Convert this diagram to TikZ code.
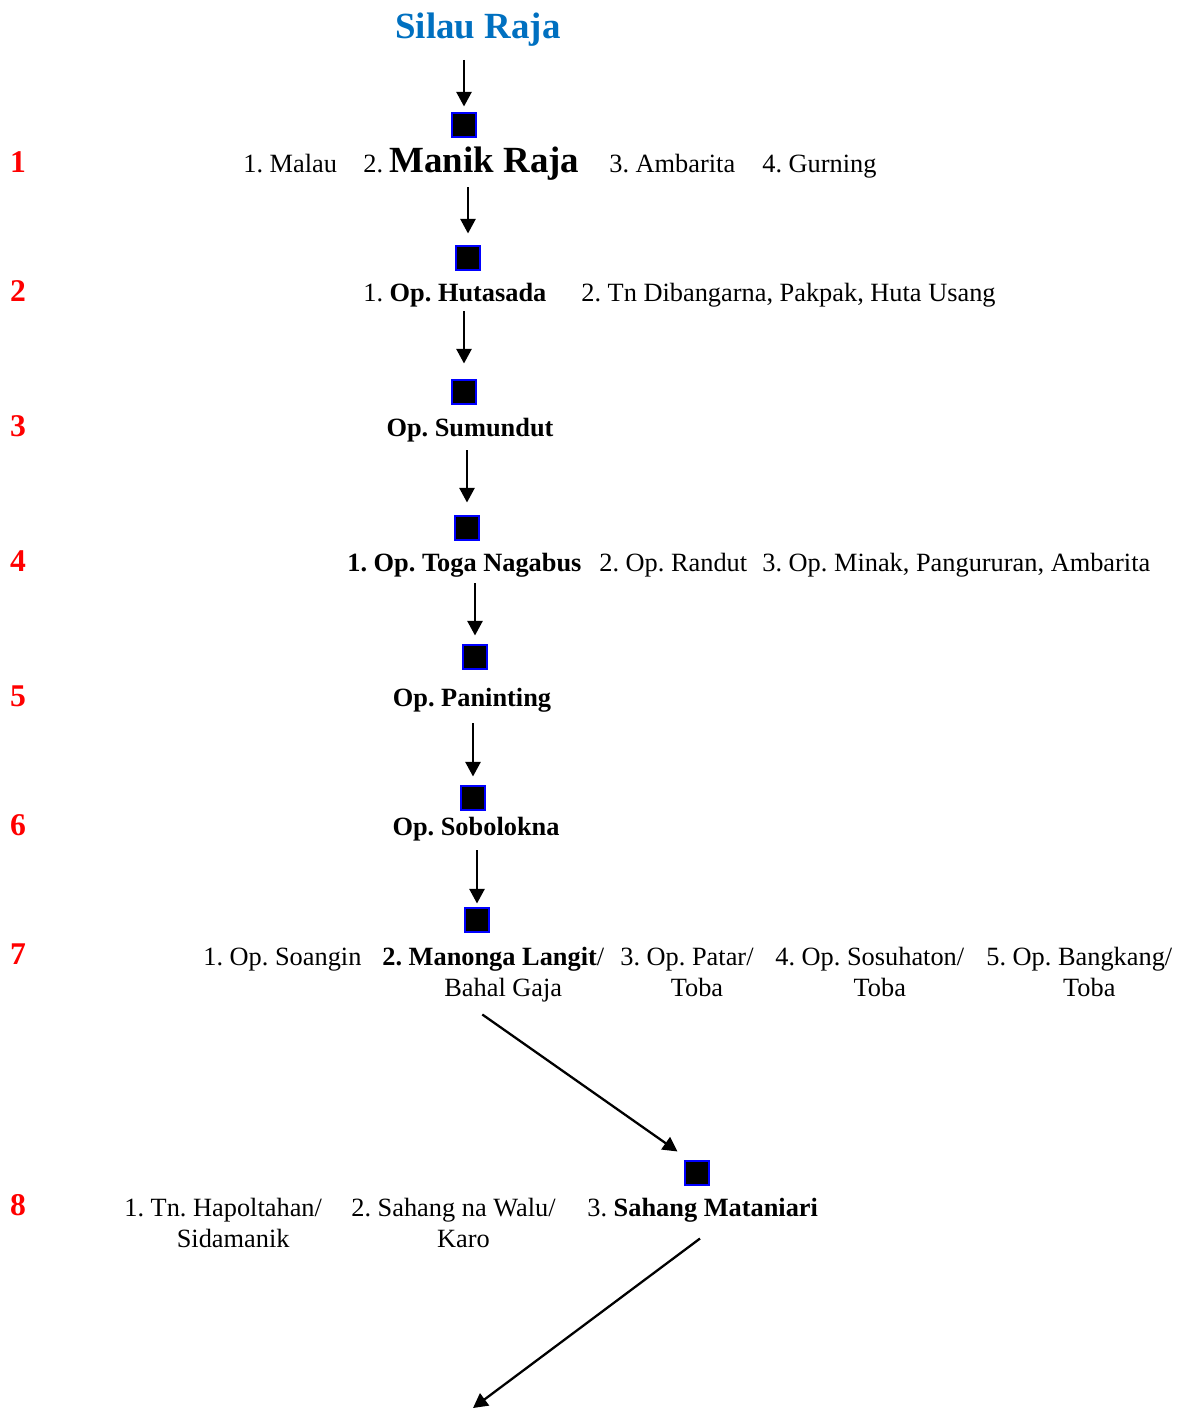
\documentclass[tikz,border=0pt]{standalone}
\usepackage{fontspec}
\setmainfont{Liberation Serif}
\usetikzlibrary{calc,arrows.meta}
\definecolor{titleblue}{RGB}{0,112,192}
\newcommand{\twoline}[2]{\begin{tabular}[t]{@{}c@{}}#1\\\hspace*{0.4cm}#2\end{tabular}}
\frenchspacing

\begin{document}
\begin{tikzpicture}[x=0.02cm, y=-0.02cm,
  txt/.style={font=\fontsize{15}{18}\selectfont, inner sep=0, anchor=base west},
  ctr/.style={txt, anchor=base},
  gen/.style={font=\fontsize{18}{21}\selectfont\bfseries, text=red, inner sep=0, anchor=base},
  sq/.style={draw=blue, fill=black, line width=0.6pt, minimum size=0.48cm, inner sep=0},
  arr/.style={-{Triangle[length=0.29cm, width=0.3cm]}, line width=1.3pt}]
\useasboundingbox (0,0) rectangle (1183,1410);

\node [font=\fontsize{21}{25}\selectfont\bfseries, text=titleblue, inner sep=0, anchor=base] (title) at (478,38) {Silau Raja};

\foreach \g/\y in {1/172, 2/301, 3/436, 4/571, 5/706, 6/835, 7/964, 8/1215}
  \node [gen] (gen\g) at (18,\y) {\g};

\foreach \n/\x/\y in {1/464/125, 2/468/258, 3/464/392, 4/467/528, 5/475/657, 6/473/798, 7/477/920, 8/697/1173}
  \node [sq] (sq\n) at (\x,\y) {};

\node [txt] (malau) at (243,172) {1. Malau};
\node [txt] (manik) at (363,172) {2. {\fontsize{21}{25}\selectfont\bfseries Manik Raja}};
\node [txt] (ambarita) at (609,172) {3. Ambarita};
\node [txt] (gurning) at (762,172) {4. Gurning};

\node [txt] (hutasada) at (363,301) {1. \textbf{Op. Hutasada}};
\node [txt] (dibangarna) at (581,301) {2. Tn Dibangarna, Pakpak, Huta Usang};

\node [ctr] (sumundut) at (470,436) {\textbf{Op. Sumundut}};

\node [txt] (toga) at (347,571) {\textbf{1. Op. Toga Nagabus}};
\node [txt] (randut) at (599,571) {2. Op. Randut};
\node [txt] (minak) at (762,571) {3. Op. Minak, Pangururan, Ambarita};

\node [ctr] (paninting) at (472,706) {\textbf{Op. Paninting}};

\node [ctr] (sobolokna) at (476,835) {\textbf{Op. Sobolokna}};

\node [txt] (soangin) at (203,965) {1. Op. Soangin};
\node [txt] (manonga) at (382,965) {\twoline{\textbf{2. Manonga Langit}/}{Bahal Gaja}};
\node [txt] (patar) at (620,965) {\twoline{3. Op. Patar/}{Toba}};
\node [txt] (sosuhaton) at (775,965) {\twoline{4. Op. Sosuhaton/}{Toba}};
\node [txt] (bangkang) at (986,965) {\twoline{5. Op. Bangkang/}{Toba}};

\node [txt] (hapoltahan) at (124,1216) {\twoline{1. Tn. Hapoltahan/}{Sidamanik}};
\node [txt] (walu) at (351,1216) {\twoline{2. Sahang na Walu/}{Karo}};
\node [txt] (mataniari) at (587,1216) {3. \textbf{Sahang Mataniari}};

\foreach \a/\b/\s/\e in {title/sq1/0.44/0.12, manik/sq2/0.3/0.24, hutasada/sq3/0.2/0.32,
    sumundut/sq4/0.28/0.26, toga/sq5/0.24/0.18, paninting/sq6/0.34/0.18, sobolokna/sq7/0.3/0.08}
  \draw [arr, shorten <=\s cm, shorten >=\e cm] (\b |- \a.base) -- (\b.north);

\draw [arr] ($(manonga.south)+(-11,8)$) -- ($(sq8.north west)+(-7,-9)$);

\coordinate (next) at (473,1408);
\draw [arr] ($(sq8.south)+(3,53)$) -- (next);
\end{tikzpicture}
\end{document}
